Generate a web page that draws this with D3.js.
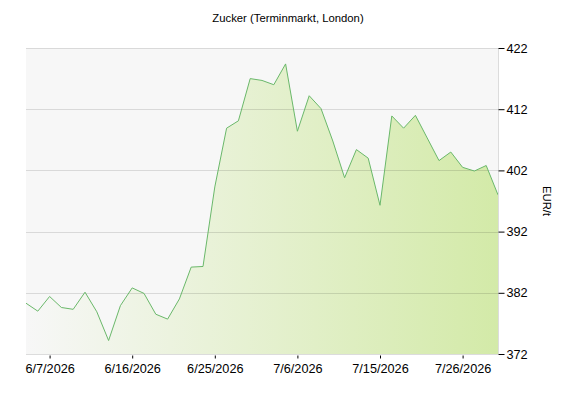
<!DOCTYPE html>
<html lang="de">
  <head>
    <meta charset="UTF-8" />
    <title>Zucker (Terminmarkt, London)</title>
    <style>
      body { margin: 0; background: #fff; overflow: hidden; }
      svg { display: block; overflow: visible; }
      text { font-family: 'Liberation Sans', Arial, sans-serif; fill: #000; }
    </style>
  </head>
  <body>
    <script src="https://cdn.jsdelivr.net/npm/d3@7"></script>
    <script>
      // Chart data
      const title = 'Zucker (Terminmarkt, London)';
      const unit = 'EUR/t';
      const prices = [
        380.3, 379.0, 381.4, 379.6, 379.3, 382.1, 378.9, 374.2, 379.9, 382.8,
        381.9, 378.5, 377.7, 381.0, 386.2, 386.3, 399.3, 408.9, 410.1, 417.0,
        416.7, 416.0, 419.4, 408.4, 414.2, 412.1, 406.8, 400.8, 405.4, 404.0,
        396.3, 410.9, 408.9, 411.0, 407.3, 403.6, 405.0, 402.5, 401.9, 402.8,
        398.0
      ];
      const tickIndex = [2, 9, 16, 23, 30, 37];
      const tickLabels = ['6/7/2026', '6/16/2026', '6/25/2026', '7/6/2026', '7/15/2026', '7/26/2026'];
      const yTicks = [372, 382, 392, 402, 412, 422];

      const width = 576;
      const height = 400;
      const margin = { top: 48, right: 78, bottom: 46, left: 26 };
      const innerWidth = width - margin.left - margin.right;
      const innerHeight = height - margin.top - margin.bottom;

      const svg = d3.select('body').append('svg')
        .attr('width', width)
        .attr('height', height);

      svg.append('text')
        .text(title)
        .attr('x', 288)
        .attr('y', 22)
        .attr('text-anchor', 'middle')
        .style('font-size', '11.3px');

      const g = svg.append('g')
        .attr('transform', `translate(${margin.left},${margin.top})`);

      const x = d3.scaleLinear()
        .domain([0, prices.length - 1])
        .range([0, innerWidth]);

      const y = d3.scaleLinear()
        .domain([372, 422])
        .range([innerHeight, 0]);

      // plot background
      g.append('rect')
        .attr('width', innerWidth)
        .attr('height', innerHeight)
        .attr('fill', '#f7f7f7');

      // horizontal gradient for the area
      const grad = svg.append('defs').append('linearGradient')
        .attr('id', 'fillGrad')
        .attr('x1', '0').attr('x2', '1').attr('y1', '0').attr('y2', '0');
      grad.append('stop').attr('offset', '0%').attr('stop-color', '#d3eaa8').attr('stop-opacity', 0);
      grad.append('stop').attr('offset', '100%').attr('stop-color', '#d3eaa8').attr('stop-opacity', 1);

      const area = d3.area()
        .x((d, i) => x(i))
        .y0(innerHeight)
        .y1((d) => y(d));

      g.append('path')
        .datum(prices)
        .attr('d', area)
        .attr('fill', 'url(#fillGrad)');

      // gridlines drawn on top of the fill
      g.append('g')
        .selectAll('line')
        .data(yTicks)
        .enter()
        .append('line')
        .attr('x1', 0)
        .attr('x2', innerWidth)
        .attr('y1', (d) => Math.round(y(d)) + 0.5)
        .attr('y2', (d) => Math.round(y(d)) + 0.5)
        .attr('stroke', 'rgba(0,0,0,0.12)');

      const line = d3.line()
        .x((d, i) => x(i))
        .y((d) => y(d));

      g.append('path')
        .datum(prices)
        .attr('d', line)
        .attr('fill', 'none')
        .attr('stroke', '#6ab86a')
        .attr('stroke-width', 1);

      // right border of the plot
      g.append('line')
        .attr('x1', innerWidth + 0.5).attr('x2', innerWidth + 0.5)
        .attr('y1', 0).attr('y2', innerHeight)
        .attr('stroke', '#dcdcdc');

      // right axis
      const yAxis = g.append('g')
        .attr('transform', `translate(${innerWidth + 0.5},0)`)
        .call(d3.axisRight(y).tickValues(yTicks).tickSize(6).tickPadding(2));
      yAxis.select('.domain').remove();
      yAxis.selectAll('line').attr('stroke', '#000');
      yAxis.selectAll('text').style('font-size', '12.7px').style('font-family', "'Liberation Sans', Arial, sans-serif");

      // bottom axis
      const xAxis = g.append('g')
        .attr('transform', `translate(0,${innerHeight + 0.5})`)
        .call(d3.axisBottom(x)
          .tickValues(tickIndex)
          .tickFormat((d, i) => tickLabels[i])
          .tickSize(4)
          .tickPadding(5));
      xAxis.select('.domain')
        .attr('stroke', '#dcdcdc')
        .attr('d', `M0,0H${innerWidth}`);
      xAxis.selectAll('.tick line').attr('stroke', '#000').attr('y1', 1);
      xAxis.selectAll('text').style('font-size', '12.7px').style('font-family', "'Liberation Sans', Arial, sans-serif");

      // y axis title
      svg.append('text')
        .text(unit)
        .attr('transform', `translate(543,${margin.top + innerHeight / 2}) rotate(90)`)
        .attr('text-anchor', 'middle')
        .style('font-size', '11.3px');
    </script>
  </body>
</html>
